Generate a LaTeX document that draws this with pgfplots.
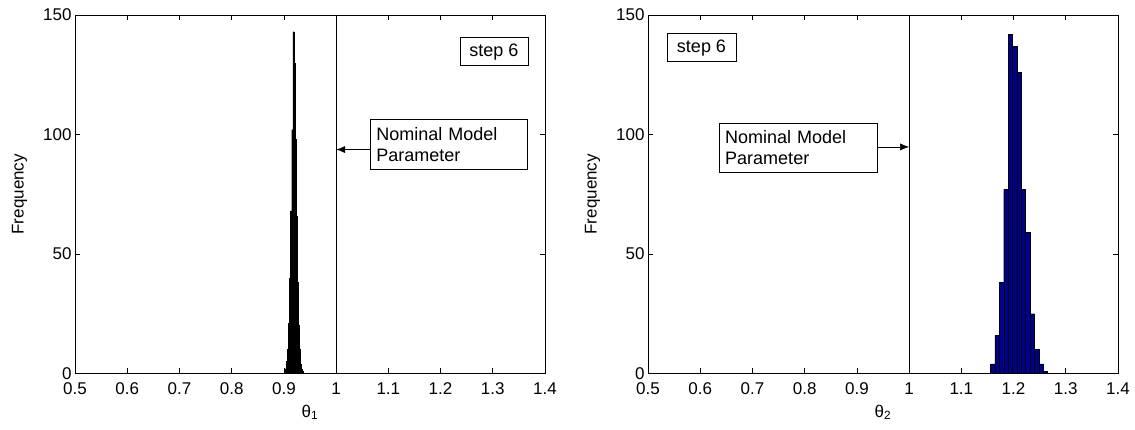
\documentclass[border=0pt]{standalone}
\usepackage{pgfplots}
\pgfplotsset{compat=1.18}
\usetikzlibrary{arrows.meta}
\usepackage{fontspec}
\setmainfont{Liberation Sans}
\tikzset{boxtxt/.style={draw=black, fill=white, font=\fontsize{18}{21}\selectfont}}
\begin{document}
\begin{tikzpicture}
\useasboundingbox (0pt,0pt) rectangle (1135pt,430pt);
\pgfplotsset{
  histax/.style={
    width=470pt, height=358.5pt, scale only axis,
    xmin=0.5, xmax=1.4, ymin=0, ymax=150,
    xtick={0.5,0.6,...,1.4},
    ytick={0,50,100,150},
    /pgf/number format/assume math mode=true,
    xticklabel style={font=\fontsize{17}{19}\selectfont, yshift=-6pt},
    yticklabel style={font=\fontsize{17}{19}\selectfont},
    label style={font=\fontsize{17}{19}\selectfont},
    xlabel shift=3pt,
    ylabel shift=9pt,
    tick align=inside, tick style={black, line width=0.6pt},
    major tick length=5pt,
    axis line style={black, line width=0.6pt},
    ylabel={Frequency},
    clip=true,
  },
}
\begin{axis}[histax, at={(75pt,56.5pt)}, anchor=south west, xlabel={θ\textsubscript{1}}]
\addplot[ybar interval, fill=black, draw=black] coordinates {
(0.901,1) (0.903,2) (0.905,5) (0.907,10) (0.909,21) (0.911,40) (0.913,68) (0.915,102)
(0.917,143) (0.919,130) (0.921,98) (0.923,66) (0.925,38) (0.927,20) (0.929,10)
(0.931,4) (0.933,2) (0.935,1) (0.937,1)};
\addplot[black, line width=1.4pt] coordinates {(0.5,0) (1.4,0)};
\addplot[black, line width=0.6pt] coordinates {(1,0) (1,150)};
\node[boxtxt, anchor=north east, minimum width=68pt, minimum height=28pt] at (axis cs:1.3675,140.6) {step 6};
\node[boxtxt, anchor=north west, text width=145pt, inner xsep=6pt, minimum height=50pt, align=left] at (axis cs:1.065,106.5) {Nominal Model\\Parameter};
\draw[-{Latex[length=9pt,width=7pt]}, black, line width=0.6pt] (axis cs:1.065,93.7) -- (axis cs:1,93.7);
\end{axis}
\begin{axis}[histax, at={(648pt,56.5pt)}, anchor=south west, xlabel={θ\textsubscript{2}}]
\addplot[ybar interval, fill={rgb,255:red,0;green,0;blue,140}, draw=black] coordinates {
(1.1560,4) (1.1644,16) (1.1728,38) (1.1812,77) (1.1896,142) (1.1980,137) (1.2064,126)
(1.2148,77) (1.2232,59) (1.2316,25) (1.2400,10) (1.2484,4) (1.2568,1) (1.2652,1)};
\addplot[black, line width=1.4pt] coordinates {(0.5,0) (1.4,0)};
\addplot[black, line width=0.6pt] coordinates {(1,0) (1,150)};
\node[boxtxt, anchor=north west, minimum width=69pt, minimum height=28pt] at (axis cs:0.536,142.3) {step 6};
\node[boxtxt, anchor=north west, text width=146pt, inner xsep=6pt, minimum height=49pt, align=left] at (axis cs:0.636,104.9) {Nominal Model\\Parameter};
\draw[-{Latex[length=9pt,width=7pt]}, black, line width=0.6pt] (axis cs:0.938,94.8) -- (axis cs:1,94.8);
\end{axis}
\end{tikzpicture}
\end{document}
